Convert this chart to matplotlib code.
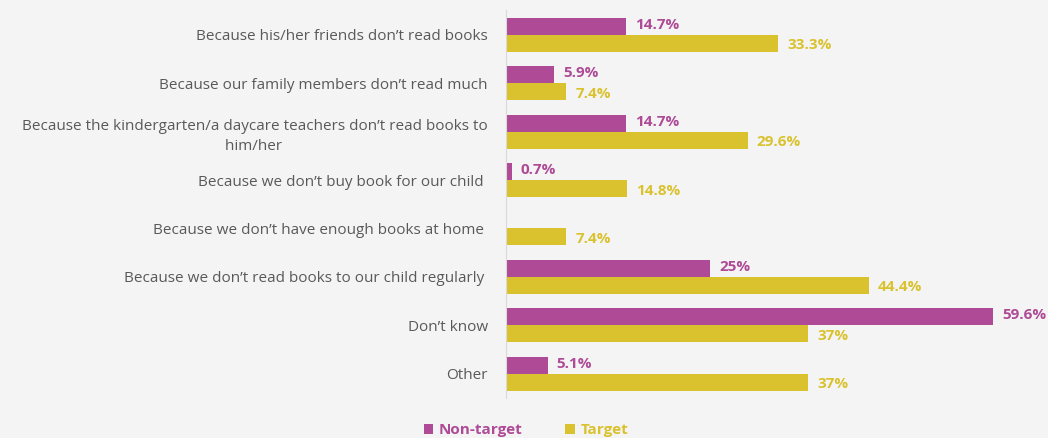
import numpy as np
import matplotlib.pyplot as plt

plt.rcParams['font.family'] = ['Open Sans', 'DejaVu Sans']

reasons = [
    "Because his/her friends don\u2019t read books",
    "Because our family members don\u2019t read much",
    "Because the kindergarten/a daycare teachers don\u2019t read books to\nhim/her ",
    "Because we don\u2019t buy book for our child ",
    "Because we don\u2019t have enough books at home ",
    "Because we don\u2019t read books to our child regularly ",
    "Don\u2019t know",
    "Other",
]
non_target = [14.7, 5.9, 14.7, 0.7, 0, 25, 59.6, 5.1]
target = [33.3, 7.4, 29.6, 14.8, 7.4, 44.4, 37, 37]
non_target_labels = ["14.7%", "5.9%", "14.7%", "0.7%", "", "25%", "59.6%", "5.1%"]
target_labels = ["33.3%", "7.4%", "29.6%", "14.8%", "7.4%", "44.4%", "37%", "37%"]

c_non = '#ae4a96'
c_tgt = '#d9c22e'
bg = '#f4f4f4'

fig = plt.figure(figsize=(10.48, 4.38), dpi=100, facecolor=bg)
ax = fig.add_axes([506 / 1048, 40 / 438, 534 / 1048, 388 / 438], facecolor=bg)

y = np.arange(len(reasons))
h = 0.35
b1 = ax.barh(y - h / 2, non_target, height=h, color=c_non, label='Non-target')
b2 = ax.barh(y + h / 2, target, height=h, color=c_tgt, label='Target')

for yi, v, t in zip(y, non_target, non_target_labels):
    if t:
        ax.annotate(t, (v, yi - h / 2), xytext=(6.5, 1), textcoords='offset points',
                    va='center', ha='left', color=c_non, fontsize=11, fontweight='bold')
for yi, v, t in zip(y, target, target_labels):
    ax.annotate(t, (v, yi + h / 2), xytext=(6.5, -1.5), textcoords='offset points',
                va='center', ha='left', color=c_tgt, fontsize=11, fontweight='bold')

ax.set_xlim(0, 534 / 8.17)
ax.set_ylim(7.5, -0.51)
ax.set_yticks(y)
ax.set_yticklabels(reasons, fontsize=11, color='#595959', multialignment='center',
                   linespacing=1.45)
ax.tick_params(axis='y', length=0, pad=13)
ax.set_xticks([])
for s in ['top', 'right', 'bottom']:
    ax.spines[s].set_visible(False)
ax.spines['left'].set_color('#d9d9d9')

leg = fig.legend(handles=[b1, b2], loc='lower center', bbox_to_anchor=(0.502, -0.03),
                 ncol=2, frameon=False, handlelength=0.6, handleheight=0.6,
                 handletextpad=0.4, columnspacing=2.8,
                 prop={'size': 11, 'weight': 'bold'})
for txt, c in zip(leg.get_texts(), [c_non, c_tgt]):
    txt.set_color(c)

fig.savefig('out.png', dpi=100, facecolor=bg)
